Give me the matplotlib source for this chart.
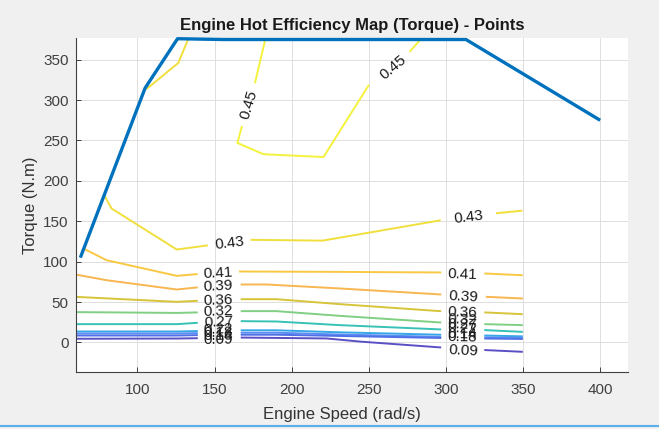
import numpy as np
import matplotlib
matplotlib.use("Agg")
import matplotlib.pyplot as plt
from matplotlib.lines import Line2D

plt.rcParams['font.family'] = ['Liberation Sans', 'DejaVu Sans']

nan = np.nan

# max torque curve (rad/s, N.m)
max_speed = [63, 105, 126, 156, 313, 400]
max_torque = [105, 315, 376, 375, 375, 275]

# contour lines, nan = gap where the label sits
x_low = [60, 125.5, 138.5, nan, 167.6, 190, 231, 296.3, nan, 325.5, 349.2]

sp_045 = [183, 176.3, nan, 167.6, 164.8, 181.7, 220.6, 249.8, nan, 276.8, 284]
tq_045 = [376, 322, nan, 266.7, 247, 233, 229.5, 318, nan, 360.6, 376]

sp_043a = [78.5, 83.3, 125.5, 145, nan, 174, 220, 296, nan, 333, 349]
tq_043a = [182, 165.7, 115, 120, nan, 127, 126, 151, nan, 160, 163]
sp_043b = [105, 108, 126.5, 133]
tq_043b = [313, 317, 346, 376]

sp_041 = [65.2, 80, 125.5, 138.5, nan, 166.5, 231, 296.3, nan, 325.5, 349.2]
tq_041 = [116, 101.8, 82.4, 84.5, nan, 87.8, 87.3, 86.6, nan, 85.3, 83.2]

sp_039 = [60, 80, 125.5, 138.5, nan, 167.6, 184, 231, 296.3, nan, 326.5, 349.2]
tq_039 = [84, 77, 65.5, 68, nan, 71.7, 71.7, 66.8, 59.4, nan, 56.4, 54.4]

tq_036 = [56.4, 50.2, 51.5, nan, 53.5, 53.5, 47.4, 38.7, nan, 37.1, 35]
tq_032 = [37.5, 36.5, 37.1, nan, 38.7, 38.7, 32.9, 24.7, nan, 22.6, 21.4]
tq_027 = [22.6, 22.6, 24.2, nan, 26.3, 25.9, 21.4, 16.1, nan, 15.2, 13.1]
tq_022 = [13.5, 13.5, 14, nan, 15, 15, 12.5, 9.5, nan, 8.5, 7.5]
tq_018 = [11, 11, 11.5, nan, 12, 12, 9.8, 6.9, nan, 6.2, 5.7]
tq_014 = [8.5, 8.5, 9, nan, 9.5, 9.5, 8, 5.5, nan, 4.8, 4.3]

sp_009 = [60, 125.5, 138.5, nan, 167.6, 222.6, 244.4, 296.3, nan, 325.5, 349.2]
tq_009 = [4.5, 4.8, 5.2, nan, 6, 4.9, 1, -6.2, nan, -9.5, -11.6]

# contour labels
lab_text = ['0.45', '0.45', '0.43', '0.43',
            '0.41', '0.39', '0.36', '0.32', '0.27', '0.22', '0.18', '0.14', '0.09',
            '0.41', '0.39', '0.36', '0.32', '0.27', '0.22', '0.18', '0.14', '0.09']
lab_x = [172, 266, 159.5, 314.5,
         152, 152.5, 152.5, 152.5, 152.5, 152.5, 152.5, 152.5, 152.5,
         310.5, 311, 310.5, 310.5, 310.5, 310.5, 310.5, 310.5, 311]
lab_y = [294, 340, 123, 155.5,
         86, 69.5, 52.5, 38, 25, 16, 11.5, 8.5, 3,
         84, 57, 37.5, 28, 22, 17, 6.5, 10, -10]
lab_rot = [73, 40, 7, 7,
           3, 3, 2, 2, 3, 2, 1, 1, 1,
           -2, -3, -2, -3, -2, -2, -1, -1, -3]

lines = [
    (sp_045, tq_045, '#f4f23c'),
    (sp_043a, tq_043a, '#f1df3c'),
    (sp_043b, tq_043b, '#f1df3c'),
    (sp_041, tq_041, '#f9c843'),
    (sp_039, tq_039, '#f8b650'),
    (x_low, tq_036, '#d6c43a'),
    (x_low, tq_032, '#80cf82'),
    (x_low, tq_027, '#38c1b6'),
    (x_low, tq_022, '#35a6e6'),
    (x_low, tq_018, '#5a8ef3'),
    (x_low, tq_014, '#4f70e6'),
    (sp_009, tq_009, '#5a4fc4'),
]

fig = plt.figure(figsize=(6.59, 4.29), dpi=100, facecolor='#f0f0f0')
ax = fig.add_axes([0.1149, 0.1322, 0.838, 0.7785])

for sx, ty, c in lines:
    ax.plot(sx, ty, color=c, lw=1.4)

ax.plot(max_speed, max_torque, color='#0072bd', lw=2.4, solid_capstyle='butt',
        clip_on=False)

for t, x, y, r in zip(lab_text, lab_x, lab_y, lab_rot):
    ax.text(x, y, t, fontsize=11, color='#1a1a1a', ha='center', va='center',
            rotation=r, rotation_mode='anchor')

ax.set_xlim(60, 418)
ax.set_ylim(-37, 376.5)
ax.set_xticks(np.arange(100, 401, 50))
ax.set_yticks(np.arange(0, 351, 50))
ax.grid(True, color='#dedede', lw=0.7)
ax.set_axisbelow(True)
ax.tick_params(direction='in', length=3.5, width=0.7, colors='#404040',
               labelsize=11, labelcolor='#404040')
ax.tick_params(axis='y', pad=5)
ax.tick_params(axis='x', pad=8)
for s in ['top', 'right']:
    ax.spines[s].set_visible(False)
for s in ['left', 'bottom']:
    ax.spines[s].set_color('#404040')
    ax.spines[s].set_linewidth(0.8)

ax.set_xlabel('Engine Speed (rad/s)', fontsize=12, color='#333333', labelpad=2)
ax.xaxis.set_label_coords(0.482, -0.105)
ax.set_ylabel('Torque (N.m)', fontsize=12, color='#333333', labelpad=4)
ax.set_title('Engine Hot Efficiency Map (Torque) - Points', fontsize=12,
             fontweight='bold', color='#1a1a1a', pad=6)

fig.add_artist(Line2D([0, 1], [0.006, 0.006], transform=fig.transFigure,
                      color='#5aaeea', lw=1.5))

fig.savefig('out.png', dpi=100, facecolor=fig.get_facecolor())
